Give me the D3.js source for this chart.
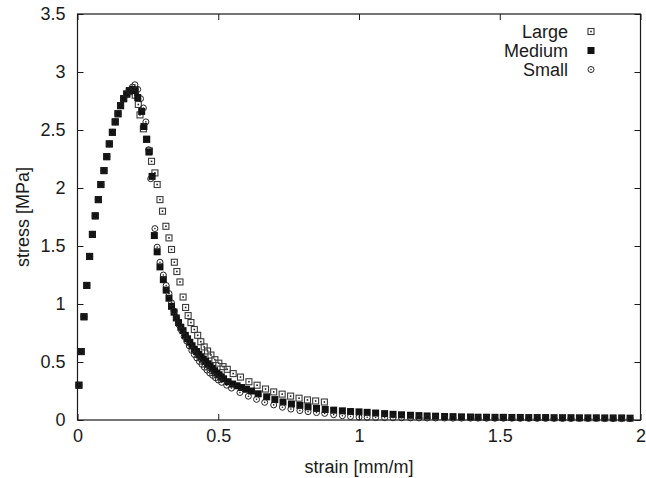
<!DOCTYPE html>
<html>
<head>
<meta charset="utf-8">
<script src="https://cdn.jsdelivr.net/npm/d3@7"></script>
<style>
  body { margin: 0; background: #fff; }
  svg { display: block; font-family: "Liberation Sans", Arial, sans-serif; }
</style>
</head>
<body>
<div id="chart"></div>
<script>
// --------------------------------------
//  Data
// --------------------------------------

const seriesNames = ["Large", "Medium", "Small"];

const largeStrain = [0.005,0.013,0.023,0.033,0.043,0.053,0.063,0.074,0.083,0.094,0.104,0.113,0.124,0.134,0.144,0.153,0.164,0.175,0.184,0.195,
  0.205,0.216,0.222,0.234,0.245,0.255,0.263,0.275,0.283,0.293,0.302,0.314,0.325,0.334,0.344,0.353,0.364,0.375,0.384,0.393,
  0.403,0.415,0.427,0.438,0.450,0.462,0.474,0.488,0.502,0.517,0.532,0.553,0.579,0.609,0.638,0.668,0.697,0.727,0.757,0.787,
  0.817,0.846,0.877];
const largeStress = [0.30,0.59,0.89,1.16,1.41,1.60,1.76,1.90,2.03,2.15,2.27,2.38,2.48,2.57,2.64,2.71,2.77,2.81,2.83,2.84,
  2.80,2.72,2.63,2.51,2.42,2.32,2.23,2.13,2.03,1.90,1.80,1.67,1.57,1.47,1.36,1.28,1.19,1.06,0.97,0.90,
  0.84,0.78,0.73,0.675,0.63,0.595,0.56,0.52,0.49,0.46,0.437,0.40,0.37,0.33,0.30,0.267,0.242,0.223,0.206,0.188,
  0.173,0.164,0.155];

const mediumStrain = [0.005,0.013,0.023,0.033,0.043,0.053,0.063,0.074,0.083,0.094,0.104,0.113,0.124,0.134,0.144,0.153,0.164,0.175,0.184,0.195,0.205,
  0.214,0.228,0.236,0.246,0.254,0.265,0.273,0.283,0.293,0.305,0.315,0.325,0.334,
  0.343,0.351,0.359,0.367,0.375,0.383,0.391,0.399,0.407,0.415,0.423,0.431,0.439,0.447,0.455,0.463,0.471,0.479,0.487,0.495,0.503,0.511,0.519,
  0.535,0.551,0.567,0.583,0.600,0.618,
  0.642,0.672,0.701,0.730,0.760,0.790,0.819,0.849,0.880,0.910,0.941,0.970,1.000,1.029,1.059,1.091,
  1.121,1.151,1.183,1.213,1.242,1.272,1.304,1.334,1.364,1.396,1.423,
  1.453,1.483,1.513,1.543,1.573,1.603,1.633,1.663,1.693,1.723,1.753,1.783,1.813,1.843,1.873,1.903,1.933,1.963];
const mediumStress = [0.30,0.59,0.89,1.16,1.41,1.60,1.76,1.90,2.03,2.15,2.27,2.38,2.48,2.57,2.64,2.71,2.77,2.81,2.84,2.85,2.84,
  2.78,2.66,2.53,2.42,2.31,2.10,1.59,1.45,1.32,1.21,1.12,1.05,0.98,
  0.93,0.88,0.84,0.80,0.77,0.73,0.70,0.67,0.64,0.61,0.59,0.565,0.545,0.525,0.505,0.485,0.465,0.445,0.425,0.405,0.39,0.372,0.355,
  0.33,0.31,0.295,0.28,0.265,0.25,
  0.226,0.20,0.176,0.155,0.138,0.126,0.114,0.10,0.091,0.085,0.079,0.073,0.070,0.066,0.060,0.055,
  0.049,0.045,0.041,0.038,0.035,0.033,0.030,0.029,0.027,0.026,0.024,
  0.024,0.023,0.023,0.022,0.022,0.021,0.021,0.021,0.020,0.020,0.020,0.019,0.019,0.019,0.018,0.018,0.018,0.016];

const smallStrain = [0.005,0.013,0.023,0.033,0.043,0.053,0.063,0.074,0.083,0.094,0.104,0.113,0.124,0.134,0.144,0.153,0.164,0.175,0.184,
  0.195,0.204,0.214,0.224,0.234,0.243,0.253,0.260,0.275,0.283,0.293,0.305,0.315,0.325,0.334,
  0.343,0.352,0.361,0.370,0.379,0.388,0.397,0.406,0.415,0.424,0.433,0.442,0.451,0.460,0.470,0.480,0.490,0.500,0.512,0.530,0.547,
  0.577,0.607,0.636,0.665,0.697,0.728,0.758,0.790,0.819,0.849,0.878,0.910,0.941,0.970,1.000,1.029,1.059,1.091,
  1.121,1.151,1.183,1.213,1.242,1.272,1.304,1.334,1.364,1.396,1.423,
  1.453,1.483,1.513,1.543,1.573,1.603,1.633,1.663,1.693,1.723,1.753,1.783,1.813,1.843,1.873,1.903,1.933,1.963];
const smallStress = [0.30,0.59,0.89,1.16,1.41,1.60,1.76,1.90,2.03,2.15,2.27,2.38,2.48,2.57,2.64,2.71,2.77,2.81,2.84,
  2.87,2.89,2.85,2.77,2.69,2.57,2.33,2.08,1.65,1.49,1.36,1.25,1.16,1.09,1.01,
  0.94,0.88,0.82,0.77,0.72,0.68,0.64,0.60,0.565,0.535,0.505,0.48,0.455,0.43,0.405,0.385,0.365,0.345,0.325,0.30,0.275,
  0.237,0.205,0.178,0.152,0.130,0.110,0.094,0.081,0.072,0.064,0.057,0.046,0.037,0.030,0.025,0.023,0.021,0.020,
  0.019,0.019,0.018,0.018,0.017,0.017,0.017,0.016,0.016,0.016,0.016,
  0.015,0.015,0.015,0.015,0.014,0.014,0.014,0.014,0.014,0.013,0.013,0.013,0.013,0.013,0.012,0.012,0.012,0.012];

const xTicks = [0, 0.5, 1, 1.5, 2];
const yTicks = [0, 0.5, 1, 1.5, 2, 2.5, 3, 3.5];

// --------------------------------------
//  Canvas
// --------------------------------------

const width = 646;
const height = 478;
const margin = {top: 14, right: 5.5, bottom: 58, left: 77.5};

const svg = d3.select("#chart")
  .append("svg")
    .attr("width", width)
    .attr("height", height);

// --------------------------------------
//  Scales
// --------------------------------------

const x = d3.scaleLinear()
  .domain([0, 2])
  .range([margin.left, width - margin.right]);

const y = d3.scaleLinear()
  .domain([0, 3.5])
  .range([height - margin.bottom, margin.top]);

// --------------------------------------
//  Axes (gnuplot style, ticks inward, mirrored)
// --------------------------------------

const fontSize = 18;
const ink = "#1a1a1a";

function styleAxis(g) {
  g.select(".domain").remove();
  g.selectAll(".tick line").attr("stroke", ink).attr("stroke-width", 1);
  g.selectAll("text")
    .attr("fill", ink)
    .style("font-size", fontSize + "px")
    .style("font-family", "'Liberation Sans', Arial, sans-serif");
}

svg.append("g")
    .attr("transform", `translate(0, ${y(0)})`)
    .call(d3.axisBottom(x).tickValues(xTicks).tickSize(-6).tickPadding(9).tickFormat(d3.format("")))
    .call(styleAxis);

svg.append("g")
    .attr("transform", `translate(${x(0)}, 0)`)
    .call(d3.axisLeft(y).tickValues(yTicks).tickSize(-6).tickPadding(12).tickFormat(d3.format("")))
    .call(styleAxis);

svg.append("g")
    .attr("transform", `translate(0, ${y(3.5)})`)
    .call(d3.axisTop(x).tickValues(xTicks).tickSize(-6).tickFormat(""))
    .call(styleAxis);

svg.append("g")
    .attr("transform", `translate(${x(2)}, 0)`)
    .call(d3.axisRight(y).tickValues(yTicks).tickSize(-6).tickFormat(""))
    .call(styleAxis);

// frame
svg.append("rect")
    .attr("x", x(0))
    .attr("y", y(3.5))
    .attr("width", x(2) - x(0))
    .attr("height", y(0) - y(3.5))
    .attr("fill", "none")
    .attr("stroke", ink)
    .attr("stroke-width", 1.2);

// axis titles
svg.append("text")
    .attr("x", (x(0) + x(2)) / 2)
    .attr("y", 473)
    .attr("text-anchor", "middle")
    .attr("fill", ink)
    .style("font-size", fontSize + "px")
    .text("strain [mm/m]");

svg.append("text")
    .attr("transform", `translate(29, ${(y(0) + y(3.5)) / 2}) rotate(-90)`)
    .attr("text-anchor", "middle")
    .attr("fill", ink)
    .style("font-size", fontSize + "px")
    .text("stress [MPa]");

// --------------------------------------
//  Markers
// --------------------------------------

function drawOpenSquare(g) {
  g.append("rect").attr("x", -3).attr("y", -3).attr("width", 6).attr("height", 6)
    .attr("fill", "none").attr("stroke", "#3a3a3a").attr("stroke-width", 1.1);
  g.append("rect").attr("x", -0.8).attr("y", -0.8).attr("width", 1.6).attr("height", 1.6)
    .attr("fill", "#222");
}

function drawFilledSquare(g) {
  g.append("rect").attr("x", -3.5).attr("y", -3.5).attr("width", 7).attr("height", 7)
    .attr("fill", "#111");
}

function drawCircle(g) {
  g.append("circle").attr("r", 3)
    .attr("fill", "none").attr("stroke", "#222").attr("stroke-width", 1);
  g.append("circle").attr("r", 0.8).attr("fill", "#222");
}

const markerFns = [drawOpenSquare, drawFilledSquare, drawCircle];
const seriesData = [
  d3.zip(largeStrain, largeStress),
  d3.zip(mediumStrain, mediumStress),
  d3.zip(smallStrain, smallStress)
];

// draw in gnuplot order: Large, Medium, Small
seriesData.forEach((data, i) => {
  svg.append("g")
    .selectAll("g")
    .data(data)
    .join("g")
      .attr("transform", (d) => `translate(${x(d[0])}, ${y(d[1])})`)
      .each(function() { markerFns[i](d3.select(this)); });
});

// --------------------------------------
//  Legend
// --------------------------------------

const legend = svg.append("g");
const legendY = [31.5, 50.5, 69.5];

seriesNames.forEach((name, i) => {
  legend.append("text")
    .attr("x", 568)
    .attr("y", legendY[i] + 6.5)
    .attr("text-anchor", "end")
    .attr("fill", ink)
    .style("font-size", fontSize + "px")
    .text(name);

  const m = legend.append("g")
    .attr("transform", `translate(591, ${legendY[i]})`);
  markerFns[i](m);
});
</script>
</body>
</html>
